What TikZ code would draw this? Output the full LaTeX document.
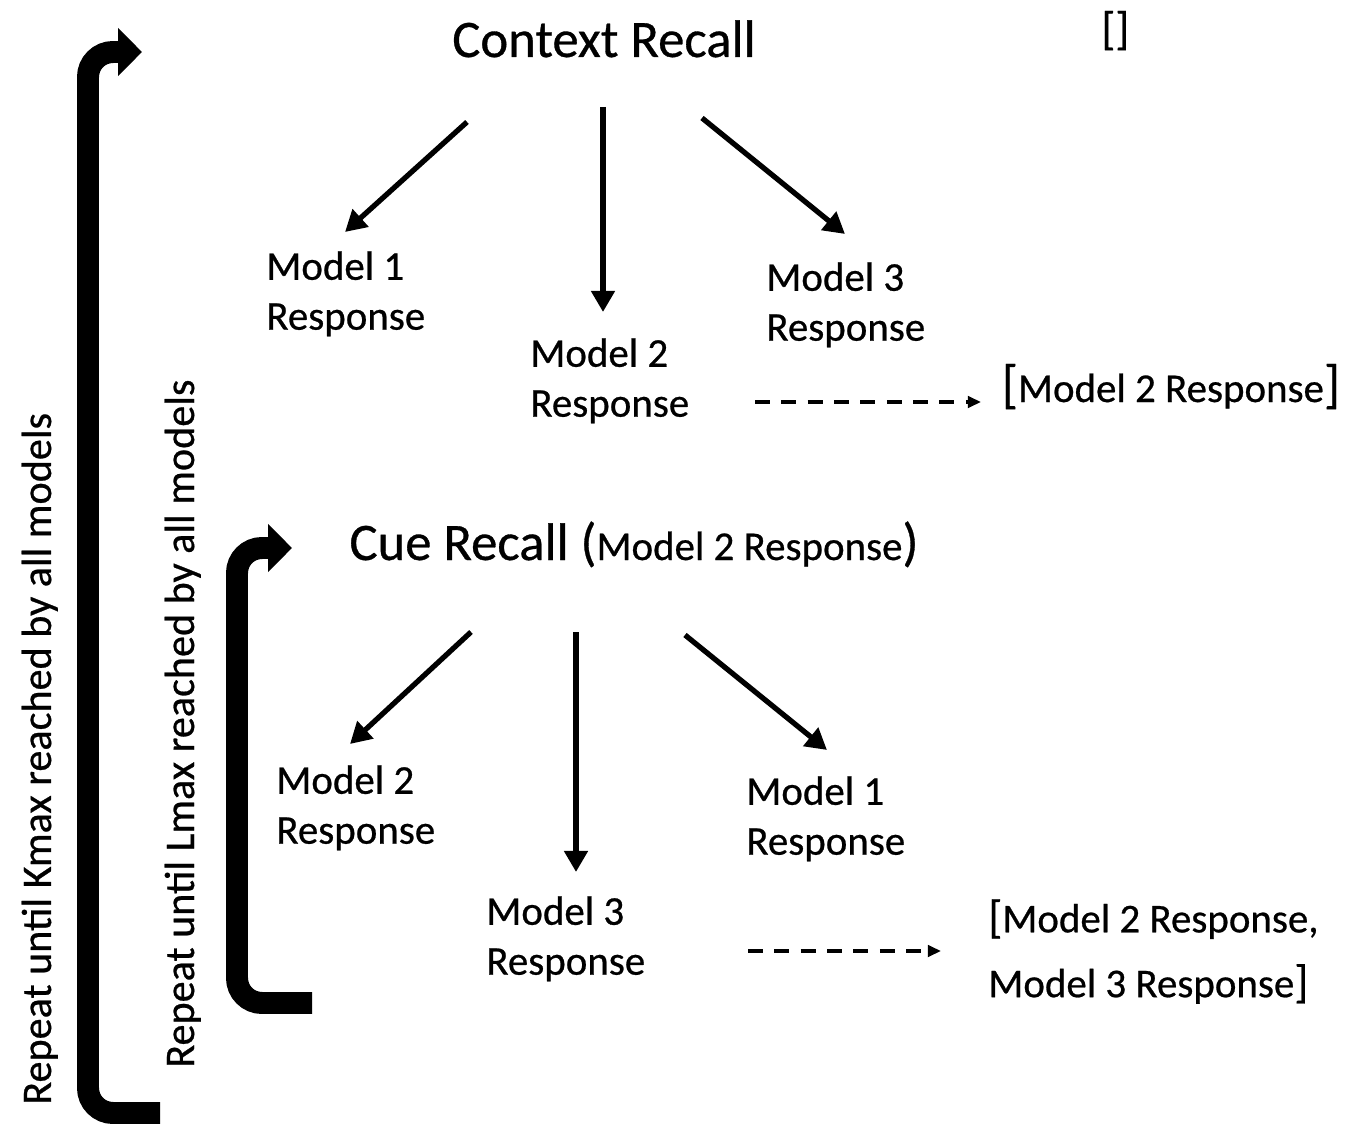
\documentclass[tikz,border=0pt]{standalone}
\usepackage{fontspec}
\setmainfont{Carlito}[FakeBold=0.6]
\usetikzlibrary{arrows.meta}

\begin{document}
\begin{tikzpicture}[x=0.02cm,y=-0.02cm,
  heading/.style={font=\fontsize{30}{36}\selectfont, inner sep=0pt},
  resp/.style={font=\fontsize{23.3}{28.4}\selectfont, align=left, inner sep=0pt, anchor=north west},
  flow/.style={line width=3pt, -{Triangle[length=12pt,width=13pt]}},
  note/.style={line width=2.2pt, dash pattern=on 8.5pt off 6.5pt, -{Triangle[length=7.5pt,width=6.5pt]}},
  repeatarrow/.style={line width=12.5pt, rounded corners=0.5cm, -{Triangle[length=13.6pt,width=26.6pt]}},
  side/.style={font=\fontsize{24}{28}\selectfont, rotate=90, anchor=base west, inner sep=0pt}]

\useasboundingbox (0,0) rectangle (1349,1125);

% --- first stage: context recall ---
\node[heading, anchor=base] (ctx) at (604,57) {Context Recall};
\node[resp, anchor=base west, font=\fontsize{26}{30}\selectfont] (empty) at (1101,44) {[]};

\node[resp] (m1a) at (266,251) {Model 1\\Response};
\node[resp] (m2a) at (530,338) {Model 2\\Response};
\node[resp] (m3a) at (766,262) {Model 3\\Response};

\node[resp, anchor=base] (res1) at (1171,402)
  {{\fontsize{30}{36}\selectfont[}Model 2 Response{\fontsize{30}{36}\selectfont]}};

\coordinate (c1s) at (467,122); \coordinate (c1e) at (345,232);
\coordinate (c2s) at (603,107); \coordinate (c2e) at (603,312);
\coordinate (c3s) at (702,118); \coordinate (c3e) at (845,234);
\draw[flow] (c1s) -- (c1e);
\draw[flow] (c2s) -- (c2e);
\draw[flow] (c3s) -- (c3e);

\coordinate (d1s) at (755,402); \coordinate (d1e) at (981,402);
\draw[note] (d1s) -- (d1e);

% --- second stage: cue recall ---
\node[heading, anchor=base] (cue) at (634,560)
  {Cue Recall ({\fontsize{23.3}{28}\selectfont Model 2 Response})};

\node[resp] (m2b) at (276,765) {Model 2\\Response};
\node[resp] (m3b) at (486,896) {Model 3\\Response};
\node[resp] (m1b) at (746,776) {Model 1\\Response};

\node[resp, font=\fontsize{23.3}{36.9}\selectfont] (res2) at (988,899)
  {{\fontsize{26}{30}\selectfont[}Model 2 Response,\\Model 3 Response{\fontsize{26}{30}\selectfont]}};

\coordinate (e1s) at (471,632); \coordinate (e1e) at (350,744);
\coordinate (e2s) at (576,632); \coordinate (e2e) at (576,872);
\coordinate (e3s) at (685,635); \coordinate (e3e) at (827,750);
\draw[flow] (e1s) -- (e1e);
\draw[flow] (e2s) -- (e2e);
\draw[flow] (e3s) -- (e3e);

\coordinate (d2s) at (748,951); \coordinate (d2e) at (941,951);
\draw[note] (d2s) -- (d2e);

% --- repeat loops ---
\coordinate (outerA) at (160,1113);
\coordinate (outerB) at (88,1113);
\coordinate (outerC) at (88,52);
\coordinate (outerD) at (142,52);
\draw[repeatarrow] (outerA) -- (outerB) -- (outerC) -- (outerD);

\coordinate (innerA) at (312,1003);
\coordinate (innerB) at (237,1003);
\coordinate (innerC) at (237,548);
\coordinate (innerD) at (292,548);
\draw[repeatarrow] (innerA) -- (innerB) -- (innerC) -- (innerD);

\node[side] (kmax) at (51,1105) {Repeat until Kmax reached by all models};
\node[side] (lmax) at (194,1068) {Repeat until Lmax reached by all models};
\end{tikzpicture}
\end{document}
